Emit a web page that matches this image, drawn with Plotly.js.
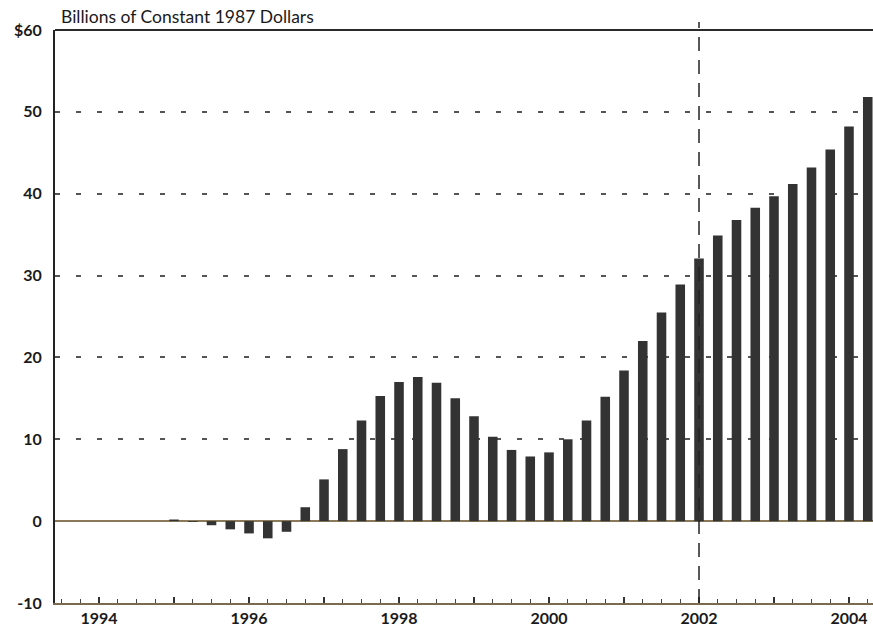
<!DOCTYPE html>
<html>
<head>
<meta charset="utf-8">
<script src="https://cdn.plot.ly/plotly-3.0.1.min.js"></script>
<style>html,body{margin:0;padding:0;background:#fff;}#chart{width:873px;height:635px;}</style>
</head>
<body>
<div id="chart"></div>
<script>
// Quarterly positions (decimal years) and values, billions of constant 1987 dollars
var quarters = [
  1995.00, 1995.25, 1995.50, 1995.75,
  1996.00, 1996.25, 1996.50, 1996.75,
  1997.00, 1997.25, 1997.50, 1997.75,
  1998.00, 1998.25, 1998.50, 1998.75,
  1999.00, 1999.25, 1999.50, 1999.75,
  2000.00, 2000.25, 2000.50, 2000.75,
  2001.00, 2001.25, 2001.50, 2001.75,
  2002.00, 2002.25, 2002.50, 2002.75,
  2003.00, 2003.25, 2003.50, 2003.75,
  2004.00, 2004.25
];
var values = [
  0.2, -0.1, -0.5, -1.0,
  -1.5, -2.1, -1.3, 1.7,
  5.1, 8.8, 12.3, 15.3,
  17.0, 17.6, 16.9, 15.0,
  12.8, 10.3, 8.7, 7.9,
  8.4, 10.0, 12.3, 15.2,
  18.4, 22.0, 25.5, 28.9,
  32.1, 34.9, 36.8, 38.3,
  39.7, 41.2, 43.2, 45.4,
  48.2, 51.8
];
var xTickVals = [1994, 1995, 1996, 1997, 1998, 1999, 2000, 2001, 2002, 2003, 2004];
var xTickText = ['1994', '', '1996', '', '1998', '', '2000', '', '2002', '', '2004'];
var yTickVals = [-10, 0, 10, 20, 30, 40, 50, 60];
var yTickText = ['-10', '0', '10', '20', '30', '40', '50', '$60'];
var titleText = 'Billions of Constant 1987 Dollars';
var dividerYear = 2002;

var trace = {
  type: 'bar',
  x: quarters,
  y: values,
  marker: {color: '#333333', line: {width: 0}},
  hoverinfo: 'x+y'
};

var layout = {
  width: 873,
  height: 635,
  margin: {l: 55, r: 0, t: 30, b: 32},
  paper_bgcolor: '#ffffff',
  plot_bgcolor: '#ffffff',
  showlegend: false,
  bargap: 0.49,
  font: {family: 'Lato, "Open Sans", sans-serif', color: '#1a1a1a'},
  title: {
    text: titleText,
    x: 61 / 873, xanchor: 'left', xref: 'container',
    y: 1 - 17 / 635, yanchor: 'middle', yref: 'container',
    font: {family: 'Lato, sans-serif', size: 17.5, color: '#1a1a1a'}
  },
  xaxis: {
    range: [1993.413, 2004.32],
    tickmode: 'array',
    tickvals: xTickVals,
    ticktext: xTickText,
    ticks: 'inside',
    ticklen: 6,
    tickwidth: 2,
    tickcolor: '#333333',
    minor: {tickmode: 'linear', tick0: 1993.5, dtick: 0.25, ticks: 'inside', ticklen: 4, tickwidth: 1, tickcolor: '#444444', showgrid: false},
    showgrid: false,
    zeroline: false,
    showline: true,
    linecolor: '#7a6a4f',
    linewidth: 2,
    tickfont: {family: 'Lato, sans-serif', size: 16, color: '#1a1a1a', weight: 'bold'},
    fixedrange: true
  },
  yaxis: {
    range: [-10, 60],
    tickmode: 'array',
    tickvals: yTickVals,
    ticktext: yTickText,
    ticks: '',
    ticklabelstandoff: 8,
    showgrid: true,
    gridcolor: '#555555',
    gridwidth: 2,
    griddash: '5px,16px',
    zeroline: true,
    zerolinecolor: '#8a7a5a',
    zerolinewidth: 2,
    showline: true,
    linecolor: '#222222',
    linewidth: 2,
    tickfont: {family: 'Lato, sans-serif', size: 16, color: '#1a1a1a', weight: 'bold'},
    fixedrange: true
  },
  shapes: [
    {type: 'line', xref: 'paper', yref: 'paper', x0: 0, x1: 1, y0: 1, y1: 1,
     line: {color: '#2a2a2a', width: 2}},
    {type: 'line', xref: 'x', yref: 'paper', x0: dividerYear, x1: dividerYear, y0: 0, y1: 1.014,
     line: {color: '#222222', width: 1.5, dash: '14px,9px'}}
  ]
};

Plotly.newPlot('chart', [trace], layout, {displayModeBar: false, staticPlot: true});
</script>
</body>
</html>
